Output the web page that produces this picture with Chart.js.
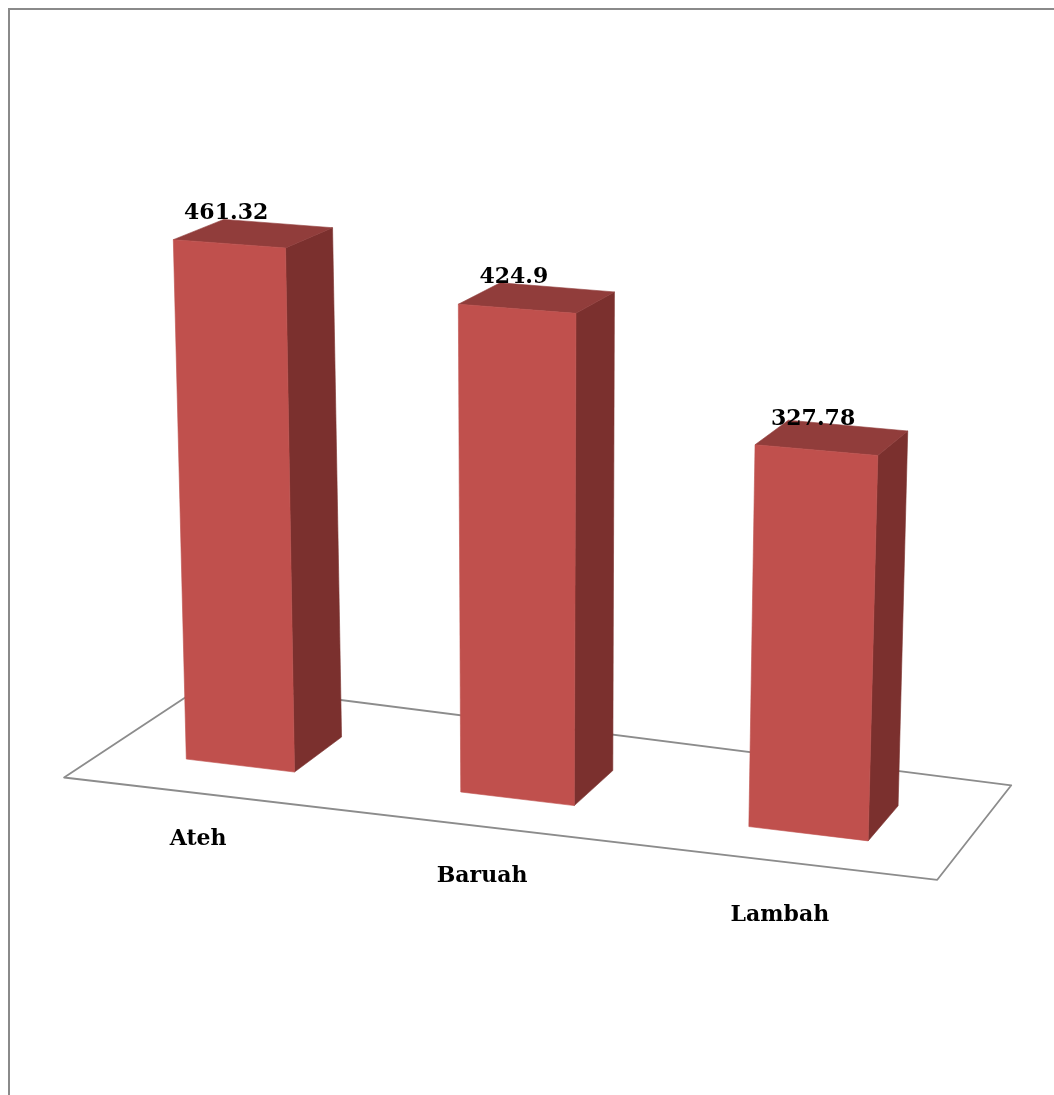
<!DOCTYPE html>
<html>
<head>
<meta charset="utf-8">
<script src="https://cdn.jsdelivr.net/npm/chart.js@4.4.1/dist/chart.umd.min.js"></script>
<style>
  html, body { margin: 0; padding: 0; background: #ffffff; }
  #wrap { width: 1054px; height: 1095px; position: relative; }
</style>
</head>
<body>
<div id="wrap"><canvas id="chart" width="1054" height="1095"></canvas></div>
<script>
// data
const categories = ["Ateh", "Baruah", "Lambah"];
const values = [461.32, 424.9, 327.78];
const valueLabels = ["461.32", "424.9", "327.78"];
const yMax = 500;

// view of the 3d plot: where the unit square of the plot plane lands on screen
// (corners: s0t0, s1t0, s1t1, s0t1), for the front and back faces of the bars
const frontPlane = [[106.5, 749.5], [959.2, 851.8], [978.3, 250.8], [89.2, 188.5]];
const backPlane = [[159.5, 714.5], [986.6, 816.8], [1005.7, 231.8], [142.2, 169.5]];
const floorFront = -0.8;
const floorBack = 1.9;

const colFront = "#c0504d";
const colTop = "#913d3b";
const colSide = "#7b302e";
const labelFont = 'bold 22px "DejaVu Serif"';

// square -> quad projective map
function quadMap(q) {
    const p0 = q[0], p1 = q[1], p2 = q[2], p3 = q[3];
    const dx1 = p1[0] - p2[0], dx2 = p3[0] - p2[0], dx3 = p0[0] - p1[0] + p2[0] - p3[0];
    const dy1 = p1[1] - p2[1], dy2 = p3[1] - p2[1], dy3 = p0[1] - p1[1] + p2[1] - p3[1];
    const den = dx1 * dy2 - dx2 * dy1;
    const g = (dx3 * dy2 - dx2 * dy3) / den;
    const h = (dx1 * dy3 - dx3 * dy1) / den;
    const a = p1[0] - p0[0] + g * p1[0], b = p3[0] - p0[0] + h * p3[0], c = p0[0];
    const d = p1[1] - p0[1] + g * p1[1], e = p3[1] - p0[1] + h * p3[1], f = p0[1];
    return (s, t) => {
        const w = g * s + h * t + 1;
        return [(a * s + b * t + c) / w, (d * s + e * t + f) / w];
    };
}

const mapFront = quadMap(frontPlane);
const mapBack = quadMap(backPlane);

function project(s, t, z) {
    const f = mapFront(s, t);
    const b = mapBack(s, t);
    return [f[0] + z * (b[0] - f[0]), f[1] + z * (b[1] - f[1])];
}

function poly(ctx, pts, fill, stroke, lw) {
    ctx.beginPath();
    ctx.moveTo(pts[0][0], pts[0][1]);
    for (let i = 1; i < pts.length; i++) ctx.lineTo(pts[i][0], pts[i][1]);
    ctx.closePath();
    if (fill) {
        ctx.fillStyle = fill;
        ctx.fill();
        ctx.strokeStyle = fill;
        ctx.lineWidth = 0.6;
        ctx.stroke();
    }
    if (stroke) {
        ctx.strokeStyle = stroke;
        ctx.lineWidth = lw;
        ctx.stroke();
    }
}

const bars3d = {
    id: "bars3d",
    beforeDraw(chart) {
        const ctx = chart.ctx;
        ctx.save();
        ctx.fillStyle = "#ffffff";
        ctx.fillRect(0, 0, chart.width, chart.height);
        // outer frame (only top and left edges show)
        ctx.strokeStyle = "#8a8a8a";
        ctx.lineWidth = 2;
        ctx.beginPath();
        ctx.moveTo(9, chart.height);
        ctx.lineTo(9, 9);
        ctx.lineTo(chart.width, 9);
        ctx.stroke();
        ctx.restore();
    },
    beforeDatasetsDraw(chart) {
        const ctx = chart.ctx;
        const xs = chart.scales.x;
        const ys = chart.scales.y;
        const toS = (px) => (px - xs.left) / (xs.right - xs.left);
        const toT = (py) => (ys.bottom - py) / (ys.bottom - ys.top);

        ctx.save();
        ctx.lineJoin = "round";

        // floor
        poly(ctx, [
            project(0, 0, floorFront),
            project(1, 0, floorFront),
            project(1, 0, floorBack),
            project(0, 0, floorBack)
        ], null, "#8c8c8c", 1.8);

        const meta = chart.getDatasetMeta(0);
        meta.data.forEach((bar, i) => {
            const p = bar.getProps(["x", "y", "base", "width"], true);
            const sL = toS(p.x - p.width / 2);
            const sR = toS(p.x + p.width / 2);
            const sC = toS(p.x);
            const tT = toT(p.y);
            const tB = toT(p.base);

            poly(ctx, [project(sR, tT, 0), project(sR, tT, 1), project(sR, tB, 1), project(sR, tB, 0)], colSide);
            poly(ctx, [project(sL, tT, 0), project(sL, tT, 1), project(sR, tT, 1), project(sR, tT, 0)], colTop);
            poly(ctx, [project(sL, tT, 0), project(sR, tT, 0), project(sR, tB, 0), project(sL, tB, 0)], colFront);

            ctx.fillStyle = "#000000";
            ctx.font = labelFont;
            ctx.textAlign = "center";
            ctx.textBaseline = "middle";
            const top = project(sC, tT, 0);
            ctx.fillText(valueLabels[i], top[0] - 3, top[1] - 31);

            const foot = project(sC, tB, floorFront);
            ctx.fillText(chart.data.labels[i], foot[0] - 3, foot[1] + 44 + 11 * sC);
        });
        ctx.restore();
        return false;
    }
};

new Chart(document.getElementById("chart"), {
    type: "bar",
    data: {
        labels: categories,
        datasets: [{
            data: values,
            backgroundColor: colFront,
            barPercentage: 0.4,
            categoryPercentage: 1.0
        }]
    },
    options: {
        responsive: false,
        animation: false,
        devicePixelRatio: 1,
        layout: { padding: 0 },
        plugins: {
            legend: { display: false },
            tooltip: { enabled: false }
        },
        scales: {
            x: { display: false, offset: true },
            y: { display: false, min: 0, max: yMax }
        }
    },
    plugins: [bars3d]
});
</script>
</body>
</html>
